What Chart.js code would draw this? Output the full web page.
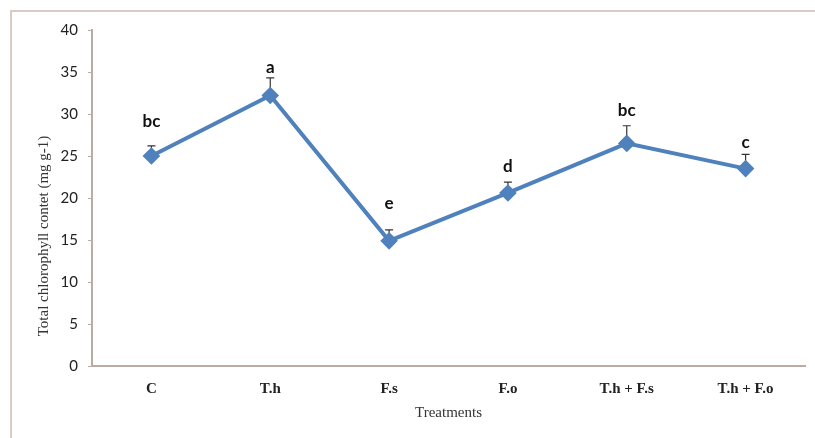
<!DOCTYPE html>
<html>
<head>
<meta charset="utf-8">
<script src="https://cdn.jsdelivr.net/npm/chart.js@4"></script>
<style>
  html, body { margin: 0; padding: 0; background: #fff; }
  #wrap { position: relative; width: 815px; height: 438px; }
  #frame { position: absolute; left: 10px; top: 10px; width: 815px; height: 440px;
           border-left: 2px solid #d9ccc6; border-top: 2px solid #d9ccc6; box-sizing: border-box; }
  canvas { position: absolute; left: 0; top: 0; }
</style>
</head>
<body>
<div id="wrap">
  <div id="frame"></div>
  <canvas id="chlChart" width="815" height="438"></canvas>
</div>
<script>
// --- datos ---
const treatments = ['C', 'T.h', 'F.s', 'F.o', 'T.h + F.s', 'T.h + F.o'];
const chlorophyll = [25.0, 32.2, 14.9, 20.6, 26.5, 23.5];
const errUp = [1.2, 2.1, 1.3, 1.3, 2.1, 1.7];
const groupLetters = ['bc', 'a', 'e', 'd', 'bc', 'c'];
const letterAt = [29.1, 35.5, 19.3, 23.8, 30.4, 26.6];
const yTicks = [0, 5, 10, 15, 20, 25, 30, 35, 40];

const axisColor = '#b9aca4';

// barras de error (solo hacia arriba), debajo de la línea
const errorBars = {
  id: 'errorBars',
  beforeDatasetsDraw(chart) {
    const { ctx, scales: { x, y } } = chart;
    ctx.save();
    ctx.strokeStyle = '#333';
    ctx.lineWidth = 1.2;
    chlorophyll.forEach((v, i) => {
      const px = x.getPixelForValue(i);
      const y0 = y.getPixelForValue(v);
      const y1 = y.getPixelForValue(v + errUp[i]);
      ctx.beginPath();
      ctx.moveTo(px, y0);
      ctx.lineTo(px, y1);
      ctx.moveTo(px - 4, y1);
      ctx.lineTo(px + 4, y1);
      ctx.stroke();
    });
    ctx.restore();
  },
  afterDatasetsDraw(chart) {
    const { ctx, scales: { x, y } } = chart;
    ctx.save();
    ctx.fillStyle = '#111';
    ctx.font = 'bold 17px Lato, "Open Sans", sans-serif';
    ctx.textAlign = 'center';
    ctx.textBaseline = 'middle';
    groupLetters.forEach((t, i) => {
      ctx.fillText(t, x.getPixelForValue(i), y.getPixelForValue(letterAt[i]));
    });
    ctx.restore();
  }
};

// título del eje Y, desplazado como en el original
const yTitle = {
  id: 'yTitle',
  afterDraw(chart) {
    const { ctx } = chart;
    ctx.save();
    ctx.translate(44, 236);
    ctx.rotate(-Math.PI / 2);
    ctx.fillStyle = '#333';
    ctx.font = '15px "Liberation Serif", "Times New Roman", serif';
    ctx.textAlign = 'center';
    ctx.textBaseline = 'middle';
    ctx.fillText('Total chlorophyll contet (mg g-1)', 0, 0);
    ctx.restore();
  }
};

new Chart(document.getElementById('chlChart'), {
  type: 'line',
  data: {
    labels: treatments,
    datasets: [{
      data: chlorophyll,
      borderColor: '#4f81bd',
      backgroundColor: '#4f81bd',
      borderWidth: 4,
      pointStyle: 'rectRot',
      pointRadius: 6,
      pointHoverRadius: 6,
      tension: 0
    }]
  },
  options: {
    responsive: false,
    animation: false,
    layout: { padding: { left: 0, top: 30, right: 9, bottom: 0 } },
    plugins: { legend: { display: false }, tooltip: { enabled: false } },
    scales: {
      x: {
        offset: true,
        grid: { display: false, drawTicks: false },
        border: { color: axisColor, width: 2 },
        ticks: {
          color: '#222',
          padding: 14,
          font: { family: '"Liberation Serif", "Times New Roman", serif', size: 15, weight: 'bold' }
        },
        title: {
          display: true,
          text: 'Treatments',
          color: '#333',
          padding: { top: 0, bottom: 16 },
          font: { family: '"Liberation Serif", "Times New Roman", serif', size: 15 }
        },
        afterFit: (s) => { s.height = 72; }
      },
      y: {
        min: 0,
        max: 40,
        afterBuildTicks: (s) => { s.ticks = yTicks.map(v => ({ value: v })); },
        grid: { drawOnChartArea: false, drawTicks: true, tickLength: 4, color: axisColor },
        border: { color: axisColor, width: 2 },
        ticks: {
          color: '#222',
          padding: 10,
          font: { family: 'Lato, "Open Sans", sans-serif', size: 15 }
        },
        afterFit: (s) => { s.width = 92; }
      }
    }
  },
  plugins: [errorBars, yTitle]
});
</script>
</body>
</html>
